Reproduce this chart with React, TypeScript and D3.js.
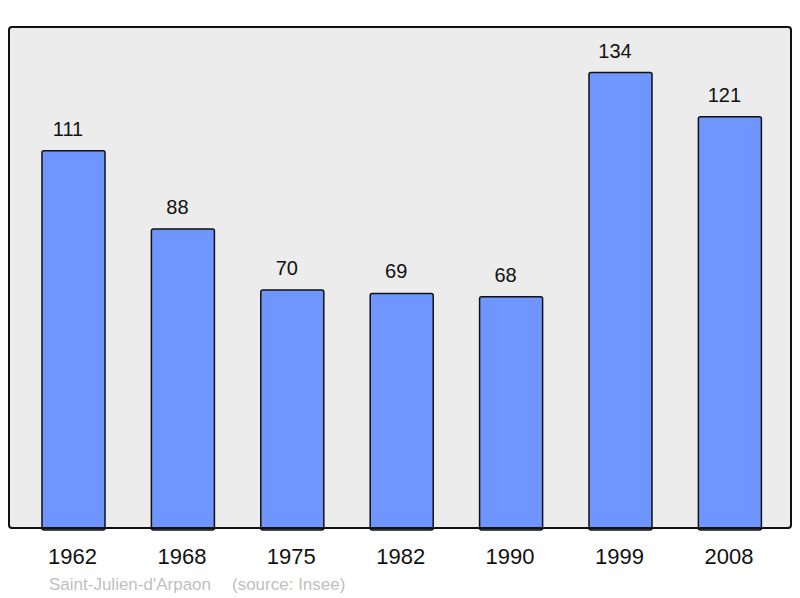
import React, { useEffect, useRef } from 'react';
import * as d3 from 'd3';

const years = ['1962', '1968', '1975', '1982', '1990', '1999', '2008'];
const population = [111, 88, 70, 69, 68, 134, 121];
const placeName = "Saint-Julien-d'Arpaon";
const sourceLabel = '(source: Insee)';

const App = () => {
  const ref = useRef<SVGSVGElement>(null);

  useEffect(() => {
    const width = 800;
    const height = 598;
    const svg = d3.select(ref.current);
    svg.selectAll('*').remove();
    svg.attr('width', width).attr('height', height);

    const panel = { left: 9, top: 27, right: 791, bottom: 528 };
    const font = '"Liberation Sans", Arial, sans-serif';

    // background panel
    svg.append('rect')
      .attr('x', panel.left)
      .attr('y', panel.top)
      .attr('width', panel.right - panel.left)
      .attr('height', panel.bottom - panel.top)
      .attr('rx', 3)
      .attr('fill', '#ececec')
      .attr('stroke', '#111')
      .attr('stroke-width', 2);

    const x = d3.scaleBand<string>()
      .domain(years)
      .range([18.8, 784.6])
      .paddingInner(0.424)
      .paddingOuter(0.212);

    const yMax = d3.max(population)! * 1.1;
    const y = d3.scaleLinear().domain([0, yMax]).range([panel.bottom, panel.top]);

    const data = years.map((yr, i) => ({ year: yr, value: population[i] }));

    svg.selectAll('.bar')
      .data(data)
      .enter().append('rect')
      .attr('class', 'bar')
      .attr('x', d => x(d.year)!)
      .attr('y', d => y(d.value))
      .attr('width', x.bandwidth())
      .attr('height', d => panel.bottom - y(d.value) + 2)
      .attr('rx', 2)
      .attr('fill', '#6f96ff')
      .attr('stroke', '#111')
      .attr('stroke-width', 1.5);

    // redraw bottom border over the bars
    svg.append('line')
      .attr('x1', panel.left + 2)
      .attr('x2', panel.right - 2)
      .attr('y1', panel.bottom)
      .attr('y2', panel.bottom)
      .attr('stroke', '#111')
      .attr('stroke-width', 2);

    // value labels sit a little left of the bar centre
    svg.selectAll('.value')
      .data(data)
      .enter().append('text')
      .attr('class', 'value')
      .attr('x', d => x(d.year)! + x.bandwidth() / 2 - 5.5)
      .attr('y', d => y(d.value) - 15)
      .attr('text-anchor', 'middle')
      .style('font-family', font)
      .style('font-size', '20px')
      .attr('fill', '#111')
      .text(d => d.value);

    svg.selectAll('.year')
      .data(data)
      .enter().append('text')
      .attr('class', 'year')
      .attr('x', d => x(d.year)! + x.bandwidth() / 2 - 1)
      .attr('y', 564)
      .attr('text-anchor', 'middle')
      .style('font-family', font)
      .style('font-size', '22px')
      .attr('fill', '#111')
      .text(d => d.year);

    svg.append('text')
      .attr('x', 49)
      .attr('y', 590)
      .style('font-family', font)
      .style('font-size', '17px')
      .attr('fill', '#c0c0c0')
      .text(placeName);

    svg.append('text')
      .attr('x', 232)
      .attr('y', 590)
      .style('font-family', font)
      .style('font-size', '17px')
      .attr('fill', '#c0c0c0')
      .text(sourceLabel);
  }, []);

  return (
    <svg ref={ref} style={{ position: 'absolute', left: 0, top: 0 }}></svg>
  );
};

export default App;
